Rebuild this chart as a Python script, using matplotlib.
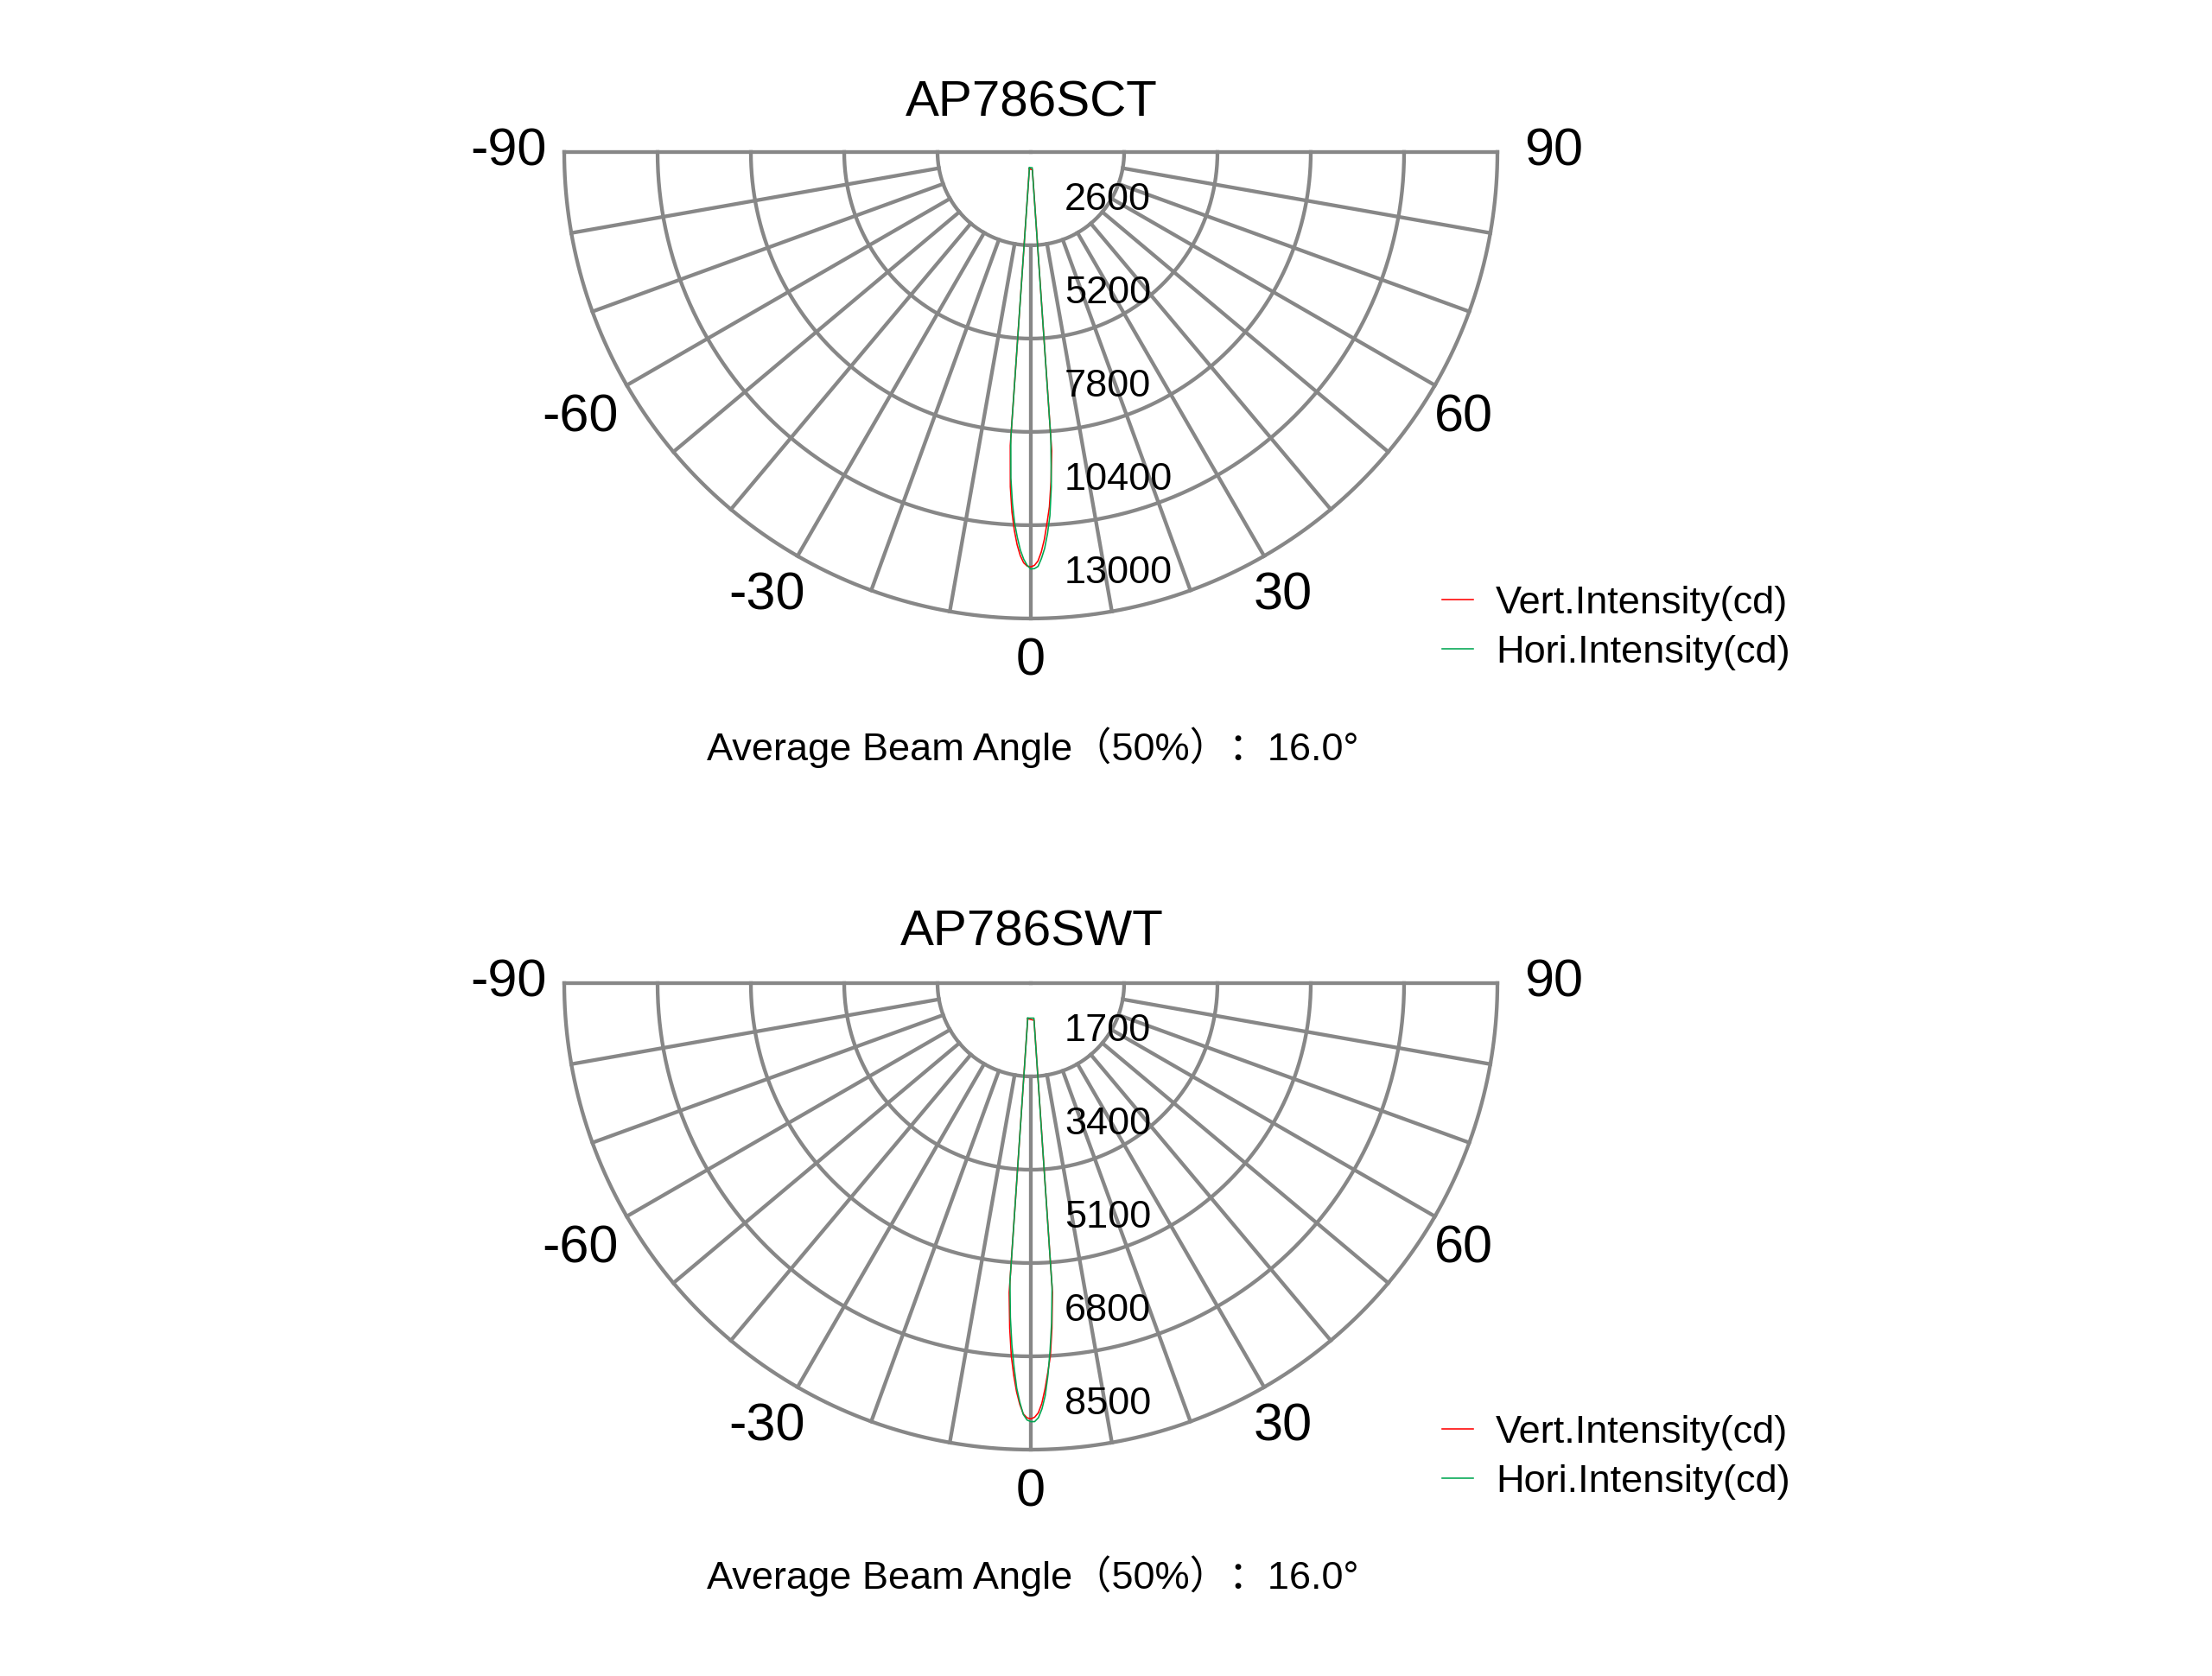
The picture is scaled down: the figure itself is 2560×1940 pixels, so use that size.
import numpy as np
import matplotlib.pyplot as plt
from matplotlib.transforms import offset_copy

plt.rcParams['font.family'] = ['Liberation Sans', 'Noto Sans CJK SC', 'DejaVu Sans']

# luminous intensity (cd)
angles = [-5, -4, -3.5, -3, -2.5, -2, -1.5, -1, -0.5, 0,
          0.5, 1, 1.5, 2, 2.5, 3, 3.5, 4, 5]
sct_vert = [470, 8200, 9350, 10050, 10550, 10950, 11250, 11450, 11540, 11560,
            11520, 11400, 11150, 10800, 10350, 9900, 9200, 8350, 500]
sct_hori = [440, 8000, 9100, 9800, 10350, 10750, 11100, 11350, 11520, 11620,
            11610, 11550, 11330, 11050, 10650, 10150, 9350, 8000, 440]
swt_vert = [650, 5650, 6300, 6800, 7150, 7450, 7680, 7850, 7920, 7940,
            7910, 7830, 7660, 7400, 7100, 6800, 6300, 5650, 680]
swt_hori = [640, 5450, 6100, 6600, 7000, 7380, 7640, 7860, 7960, 7990,
            7990, 7920, 7760, 7520, 7150, 6700, 6200, 5550, 640]

sct_rings = [2600, 5200, 7800, 10400, 13000]
swt_rings = [1700, 3400, 5100, 6800, 8500]
angle_ticks = [-90, -60, -30, 0, 30, 60, 90]
spokes = list(range(-80, 90, 10))

titles = ['AP786SCT', 'AP786SWT']
beam = [16.0, 16.0]

GRID = '#878787'
RED = '#ff0000'
GREEN = '#00a651'

W, H = 2560, 1940
R = 540       # outer radius in px
CX = 1193     # centre x in px

# small nudges (px) of the angle labels
label_nudge = {-90: (0, 0), -60: (-10, -13), -30: (-10, -3), 0: (0, 0),
               30: (-3, -3), 60: (-10, -13), 90: (0, 0)}

fig = plt.figure(figsize=(W / 100, H / 100 + 0.001), dpi=100)


def polar_panel(cy, rings, vert, hori, title, ba, title_y, beam_y, leg_y):
    # square axes; the half disc sits in its middle
    top = cy - R / 2
    rect = [(CX - R) / W, 1 - (top + 2 * R) / H, 2 * R / W, 2 * R / H]
    ax = fig.add_axes(rect, projection='polar')
    ax.set_theta_zero_location('S')
    ax.set_thetamin(-90)
    ax.set_thetamax(90)
    rmax = rings[-1]
    ax.set_rlim(0, rmax)
    ax.set_axis_off()

    # grid: arcs, spokes, top line
    th = np.deg2rad(np.linspace(-90, 90, 361))
    for r in rings:
        ax.plot(th, np.full_like(th, r), color=GRID, lw=3.1, clip_on=False, zorder=2)
    for a in spokes:
        ax.plot([np.deg2rad(a)] * 2, [rings[0], rmax], color=GRID, lw=3.1,
                clip_on=False, zorder=2)
    for a in (-90, 90):
        ax.plot([np.deg2rad(a)] * 2, [0, rmax], color=GRID, lw=3.1,
                clip_on=False, zorder=2)

    t = np.deg2rad(angles + [angles[0]])
    ax.plot(t, vert + [vert[0]], color=RED, lw=1.15, label='Vert.Intensity(cd)', zorder=3)
    ax.plot(t, hori + [hori[0]], color=GREEN, lw=1.15, label='Hori.Intensity(cd)', zorder=3)

    # angle labels
    for a in angle_ticks:
        rr = rmax * (1.12 if abs(a) == 90 else 1.093)
        dx, dy = label_nudge[a]
        tr = offset_copy(ax.transData, fig=fig, x=dx, y=dy, units='dots')
        ax.text(np.deg2rad(a), rr, str(a), transform=tr, fontsize=44,
                ha='center', va='center')

    # radial labels
    tr = offset_copy(ax.transData, fig=fig, x=39, y=53, units='dots')
    for r in rings:
        ax.text(0, r, str(r), transform=tr, fontsize=32.5, ha='left', va='center')

    fig.text(0.4664, 1 - title_y / H, title, fontsize=42, ha='center', va='center')
    fig.text(0.4668, 1 - beam_y / H, f'Average Beam Angle（50%）：{ba:.1f}°',
             fontsize=32.5, ha='center', va='center')
    ax.legend(loc='center left', bbox_to_anchor=(0.652, 1 - leg_y / H),
              bbox_transform=fig.transFigure, frameon=False, fontsize=32.5,
              handlelength=0.8, handletextpad=0.57, labelspacing=0.36,
              borderpad=0, borderaxespad=0)
    return ax


polar_panel(176, sct_rings, sct_vert, sct_hori, titles[0], beam[0], 119, 865, 727)
polar_panel(1138, swt_rings, swt_vert, swt_hori, titles[1], beam[1], 1079, 1824, 1687)

fig.savefig('out.png', dpi=100, facecolor='white')
